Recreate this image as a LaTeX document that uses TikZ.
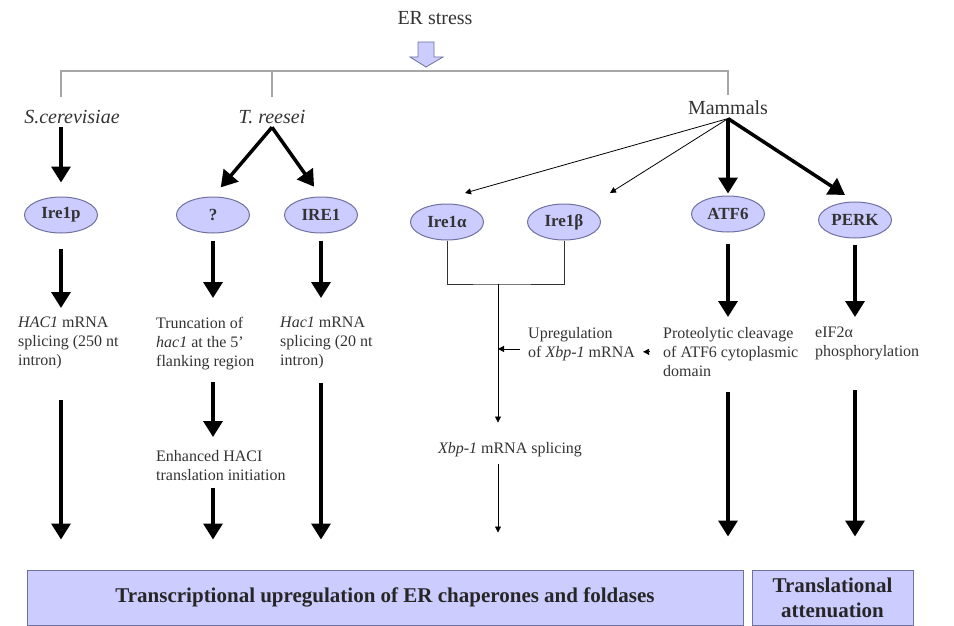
\documentclass[tikz,border=0pt]{standalone}
\usepackage{fontspec}
\setmainfont{Liberation Serif}
\usetikzlibrary{arrows.meta,shapes.geometric,positioning}
\definecolor{lav}{HTML}{CCCCFF}
\definecolor{lavline}{HTML}{7070A0}
\definecolor{ink}{HTML}{333333}
\tikzstyle{fat}=[line width=3.5pt,-{Triangle[length=16pt,width=19pt]}]
\tikzstyle{slim}=[line width=0.8pt,-{Triangle[length=6pt,width=6pt]}]
\tikzstyle{bar}=[draw=gray!70,line width=1.5pt]
\tikzstyle{enzyme}=[ellipse,draw=lavline,line width=1pt,fill=lav,minimum width=73pt,minimum height=36pt,inner sep=1pt,text=ink,font=\fontsize{17}{20}\selectfont\bfseries]
\tikzstyle{note}=[anchor=north west,align=left,inner sep=0pt,text=ink,font=\fontsize{16}{19}\selectfont]
\tikzstyle{organism}=[text=ink,font=\fontsize{20}{24}\selectfont]
\tikzstyle{result}=[draw=lavline,line width=1pt,fill=lav,minimum height=55pt,align=center,text=black!85,font=\fontsize{21}{25}\selectfont\bfseries]

\begin{document}
\begin{tikzpicture}[x=1pt,y=-1pt]
    \useasboundingbox (0,0) rectangle (954,626);

    % stress and the three organisms
    \node[organism] (stress) at (435,18) {ER stress};
    \filldraw[fill=lav,draw=lavline,line width=0.8pt] (418,42) -- (434,42) -- (434,57) -- (443,57) -- (426,67) -- (410,57) -- (418,57) -- cycle;
    \coordinate (split) at (426,71);
    \node[organism,font=\fontsize{20}{24}\selectfont\itshape] (scer) at (72,117) {S.cerevisiae};
    \node[organism,font=\fontsize{20}{24}\selectfont\itshape] (treesei) at (272,117) {T. reesei};
    \node[organism] (mammals) at (728,108) {Mammals};

    % sensors
    \node[enzyme] (ire1p) at (61,215) {Ire1p};
    \node[enzyme] (unk) at (213,215) {?};
    \node[enzyme,right=34pt of unk] (ire1) {IRE1};
    \node[enzyme] (ire1a) at (447,222) {Ire1α};
    \node[enzyme,right=43pt of ire1a] (ire1b) {Ire1β};
    \node[enzyme] (atf6) at (728,214) {ATF6};
    \node[enzyme] (perk) at (855,220) {PERK};

    \draw[bar] (ire1p |- 0,97) |- (split) -| (mammals |- 0,95);
    \draw[bar] (split -| treesei) -- (treesei |- 0,97);

    % steps
    \node[note] (hac1) at (18,317) {\textit{HAC1} mRNA\\splicing (250 nt\\intron)};
    \node[note] (trunc) at (156,317) {Truncation of\\\textit{hac1} at the 5'\\flanking region};
    \node[note] (hac1b) at (280,317) {\textit{Hac1} mRNA\\splicing (20 nt\\intron)};
    \node[note] (enh) at (156,450) {Enhanced HACI\\translation initiation};
    \node[note] (upreg) at (528,327) {Upregulation\\of \textit{Xbp-1} mRNA};
    \node[note] (proteo) at (663,327) {Proteolytic cleavage\\of ATF6 cytoplasmic\\domain};
    \node[note] (eif) at (815,327) {eIF2α\\phosphorylation};
    \node[note,anchor=center] (xbp) at (510,450) {\textit{Xbp-1} mRNA splicing};

    % outcomes
    \node[result,minimum width=716pt] (tbox) at (385,597.5) {Transcriptional upregulation of ER chaperones and foldases};
    \node[result,minimum width=161pt] (abox) at (832.5,597.5) {Translational\\attenuation};

    \draw[fat,shorten >=14pt] (scer.south -| ire1p) -- (ire1p.north);
    \draw[fat,shorten >=12pt] (treesei.south) -- (unk.north);
    \draw[fat,shorten >=12pt] (treesei.south) -- (ire1.north);
    \coordinate (tipa) at (465,193);
    \coordinate (tipb) at (610,193);
    \draw[slim] (mammals.south) -- (tipa);
    \draw[slim] (mammals.south) -- (tipb);
    \draw[fat,shorten >=2pt] (mammals.south) -- (atf6.north);
    \draw[fat,shorten >=12pt] (mammals.south) -- (perk.north);

    \draw[fat,shorten <=15pt,shorten >=9pt] (ire1p.south) -- (ire1p |- hac1.north);
    \draw[fat,shorten <=7pt,shorten >=19pt] (unk.south) -- (unk |- trunc.north);
    \draw[fat,shorten <=7pt,shorten >=19pt] (ire1.south) -- (ire1 |- hac1b.north);
    \draw[fat,shorten <=11pt,shorten >=10pt] (atf6.south) -- (atf6 |- proteo.north);
    \draw[fat,shorten <=6pt,shorten >=10pt] (perk.south) -- (perk |- eif.north);

    \draw[fat,shorten <=31pt,shorten >=30pt] (ire1p |- hac1.south) -- (ire1p |- tbox.north);
    \draw[fat,shorten <=12pt,shorten >=13pt] (unk |- trunc.south) -- (unk |- enh.north);
    \draw[fat,shorten <=7pt,shorten >=30pt] (unk |- enh.south) -- (unk |- tbox.north);
    \draw[fat,shorten <=14pt,shorten >=30pt] (ire1 |- hac1b.south) -- (ire1 |- tbox.north);
    \draw[fat,shorten <=15pt,shorten >=33pt] (atf6 |- proteo.south) -- (atf6 |- tbox.north);
    \draw[fat,shorten <=30pt,shorten >=33pt] (perk |- eif.south) -- (perk |- abox.north);

    % Ire1 alpha / beta branch
    \coordinate (join) at (498,284);
    \draw[ink,line width=0.8pt] (ire1a.south) |- (join) -| (ire1b.south);
    \draw[slim,shorten >=20pt] (join) -- (join |- xbp.north);
    \draw[slim,shorten <=7pt,shorten >=37pt] (join |- xbp.south) -- (join |- tbox.north);
    \draw[slim,shorten <=8pt] ([yshift=-5pt]upreg.west) -- ([yshift=-5pt]upreg.west -| join);
    \draw[slim,shorten <=13pt,shorten >=8pt] (proteo.west) -- (proteo.west -| upreg.east);
\end{tikzpicture}
\end{document}
